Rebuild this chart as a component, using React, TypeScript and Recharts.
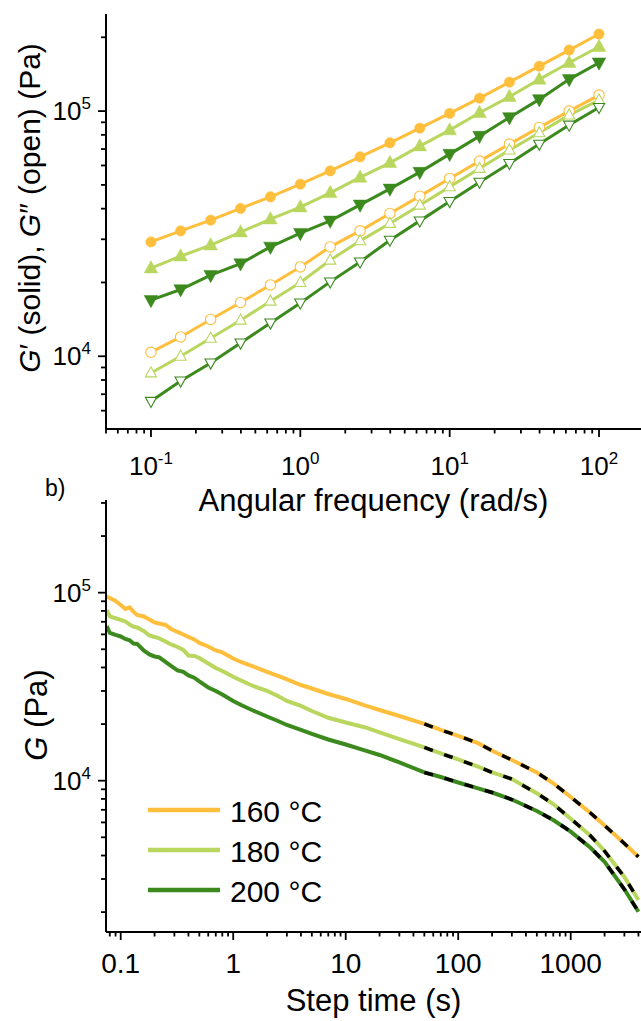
import { LineChart, Line, XAxis, YAxis, Label, Legend } from "recharts";

const FONT = "'Liberation Sans', Arial, Helvetica, sans-serif";
const ORANGE = "#FFBE3C";
const LIGHT = "#B9D65E";
const DARK = "#3C8A1E";

// a) frequency sweep
const freq = [0.1, 0.158, 0.251, 0.398, 0.631, 1, 1.585, 2.512, 3.981, 6.31, 10, 15.85, 25.12, 39.81, 63.1, 100];
const gp160 = [29270, 32470, 35910, 40080, 44700, 50350, 57050, 65090, 74240, 85220, 97860, 113000, 131300, 152600, 177400, 206200];
const gp180 = [22870, 25600, 28390, 32080, 36250, 40580, 46400, 53620, 61520, 71960, 83640, 98420, 114400, 134700, 157500, 183000];
const gp200 = [16930, 18720, 21410, 23890, 27930, 31770, 35660, 41460, 48180, 56370, 66760, 79070, 94250, 111600, 134700, 157500];
const gpp160 = [10380, 11990, 14120, 16570, 19540, 23140, 27930, 32470, 38220, 44990, 53130, 62520, 73340, 85800, 100000, 116200];
const gpp180 = [8548, 10000, 11840, 14030, 16770, 19990, 24650, 29550, 34800, 41330, 49090, 58360, 69310, 81540, 96310, 110900];
const gpp200 = [6552, 7930, 9390, 11330, 13670, 16500, 20110, 24260, 29750, 35660, 42800, 51310, 61160, 73340, 87690, 103500];

// b) stress relaxation
const stepTime = [0.075, 0.08, 0.09, 0.1, 0.11, 0.12, 0.13, 0.14, 0.16, 0.18, 0.2, 0.22, 0.25, 0.28, 0.32, 0.36, 0.4, 0.45, 0.5, 0.6, 0.7, 0.8,
  1, 1.2, 1.5, 2, 2.5, 3, 4, 5, 7, 10, 15, 20, 30, 50, 70, 100, 150, 200, 300, 500, 700, 1000, 1500, 2000, 3000, 4000];
const g160 = [95220, 93720, 90340, 86030, 81910, 83430, 78970, 76120, 74730, 72030, 69430, 68590, 67340, 64120, 61800, 59940, 58130, 56380, 54010, 51750, 49270, 48080,
  44670, 42540, 40500, 37860, 36050, 34620, 32280, 30930, 28920, 27200, 25060, 23770, 22090, 20030, 18610, 17330, 15830, 14440, 12890, 11060, 9690, 8191, 6734, 5777, 4634, 3943];
const g180 = [80880, 74730, 73100, 71590, 70280, 67750, 65950, 65310, 62570, 59210, 58130, 57070, 55010, 53030, 51430, 49570, 46340, 46060, 44950, 42020, 39770, 38320,
  35740, 33910, 31890, 30010, 28220, 26540, 24970, 23480, 21610, 20400, 19190, 18050, 16630, 15020, 13970, 12970, 11870, 11060, 10210, 8570, 7516, 6280, 5094, 4227, 3075, 2320];
const g200 = [66520, 61050, 59570, 58490, 56730, 55800, 53680, 53400, 49270, 46920, 45780, 45300, 42800, 40750, 38570, 37900, 36280, 35300, 33710, 31310, 30010, 28740,
  26540, 25120, 23630, 21950, 20770, 19780, 18610, 17720, 16560, 15580, 14440, 13700, 12500, 11060, 10460, 9782, 9110, 8655, 7943, 6900, 6180, 5361, 4396, 3704, 2645, 2010];
const fitTime = [50, 70, 100, 150, 200, 300, 500, 700, 1000, 1500, 2000, 3000, 4000];
const fit160 = [20030, 18610, 17330, 15830, 14440, 12890, 11060, 9690, 8191, 6734, 5777, 4634, 3943];
const fit180 = [15020, 13970, 12970, 11870, 11060, 10210, 8570, 7516, 6280, 5094, 4227, 3075, 2320];
const fit200 = [11060, 10460, 9782, 9110, 8655, 7943, 6900, 6180, 5361, 4396, 3704, 2645, 2010];

// tick positions (majors get labels)
const topXTicks = [0.05, 0.06, 0.07, 0.08, 0.09, 0.1, 0.2, 0.3, 0.4, 0.5, 0.6, 0.7, 0.8, 0.9, 1, 2, 3, 4, 5, 6, 7, 8, 9, 10, 20, 30, 40, 50, 60, 70, 80, 90, 100];
const topYTicks = [6000, 7000, 8000, 9000, 10000, 20000, 30000, 40000, 50000, 60000, 70000, 80000, 90000, 100000, 200000];
const botXTicks = [0.08, 0.09, 0.1, 0.2, 0.3, 0.4, 0.5, 0.6, 0.7, 0.8, 0.9, 1, 2, 3, 4, 5, 6, 7, 8, 9, 10, 20, 30, 40, 50, 60, 70, 80, 90,
  100, 200, 300, 400, 500, 600, 700, 800, 900, 1000, 2000, 3000, 4000];
const botYTicks = [2000, 3000, 4000, 5000, 6000, 7000, 8000, 9000, 10000, 20000, 30000, 40000, 50000, 60000, 70000, 80000, 90000, 100000, 200000, 300000];

const topRows = freq.map((f, i) => ({
  f, gp160: gp160[i], gp180: gp180[i], gp200: gp200[i], gpp160: gpp160[i], gpp180: gpp180[i], gpp200: gpp200[i],
}));

const botRows = stepTime.map((t, i) => {
  const k = fitTime.indexOf(t);
  return {
    t, g160: g160[i], g180: g180[i], g200: g200[i],
    fit160: k >= 0 ? fit160[k] : null,
    fit180: k >= 0 ? fit180[k] : null,
    fit200: k >= 0 ? fit200[k] : null,
  };
});

const isMajor = (v: number) => Math.abs(Math.log10(v) - Math.round(Math.log10(v))) < 1e-6;

function XTick(props: any) {
  const { x, y, payload, exp } = props;
  const v = payload.value;
  const major = isMajor(v);
  const e = Math.round(Math.log10(v));
  return (
    <g>
      <line x1={x} y1={y} x2={x} y2={y + (major ? 8 : 4.5)} stroke="#000" strokeWidth={1.8} />
      {major && exp && (
        <text x={x} y={y + 46} textAnchor="middle" fontSize={26} fontFamily={FONT} fill="#000">
          10<tspan dy={-11} fontSize={17}>{e}</tspan>
        </text>
      )}
      {major && !exp && (
        <text x={x} y={y + 41} textAnchor="middle" fontSize={28} fontFamily={FONT} fill="#000">
          {String(v)}
        </text>
      )}
    </g>
  );
}

function YTick(props: any) {
  const { x, y, payload } = props;
  const v = payload.value;
  const major = isMajor(v);
  const e = Math.round(Math.log10(v));
  return (
    <g>
      <line x1={x} y1={y} x2={x - (major ? 8 : 5)} y2={y} stroke="#000" strokeWidth={1.8} />
      {major && (
        <text x={x - 15} y={y + 9} textAnchor="end" fontSize={26} fontFamily={FONT} fill="#000">
          10<tspan dy={-11} fontSize={17}>{e}</tspan>
        </text>
      )}
    </g>
  );
}

const marker = (shape: string, color: string, open: boolean) => (p: any) => {
  const { cx, cy, index } = p;
  const key = `${shape}-${color}-${open ? "o" : "s"}-${index}`;
  if (cx == null || cy == null) return <g key={key} />;
  const fill = open ? "#fff" : color;
  const sw = open ? 1.1 : 0.5;
  if (shape === "circle") {
    return <circle key={key} cx={cx} cy={cy} r={5.2} fill={fill} stroke={color} strokeWidth={sw} />;
  }
  const h = open ? 5.6 : 6.8;
  const d =
    shape === "up"
      ? `M${cx},${cy - h * 1.1}L${cx + h},${cy + h * 0.7}L${cx - h},${cy + h * 0.7}Z`
      : `M${cx},${cy + h * 1.1}L${cx + h},${cy - h * 0.7}L${cx - h},${cy - h * 0.7}Z`;
  return <path key={key} d={d} fill={fill} stroke={color} strokeWidth={sw} />;
};

const renderLegend = (props: any) => {
  const items = (props.payload || []).filter((it: any) => it.type !== "none");
  return (
    <svg width={200} height={122}>
      {items.map((it: any, i: number) => (
        <g key={i}>
          <line x1={0} x2={72} y1={20 + 40 * i} y2={20 + 40 * i} stroke={it.color} strokeWidth={4.5} />
          <text x={82} y={31.5 + 40 * i} fontSize={30} fontFamily={FONT} fill="#000">
            {it.value}
          </text>
        </g>
      ))}
    </svg>
  );
};

export default function App() {
  return (
    <div style={{ position: "absolute", left: 0, top: 0, width: 641, height: 1021, background: "#fff" }}>
      <div style={{ position: "absolute", left: 0, top: 0 }}>
        <LineChart width={641} height={525} data={topRows} margin={{ top: 14, right: 0, bottom: 0, left: 0 }}>
          <XAxis
            dataKey="f"
            type="number"
            scale="log"
            domain={[0.05, 191]}
            allowDataOverflow
            ticks={topXTicks}
            interval={0}
            tickLine={false}
            tickSize={0}
            tickMargin={0}
            height={96}
            axisLine={{ stroke: "#000", strokeWidth: 2 }}
            tick={(p: any) => <XTick {...p} exp />}
          >
            <Label
              content={(lp: any) => {
                const vb = lp.viewBox;
                return (
                  <text x={vb.x + vb.width / 2} y={vb.y + 82} textAnchor="middle" fontSize={31} fontFamily={FONT} fill="#000">
                    Angular frequency (rad/s)
                  </text>
                );
              }}
            />
          </XAxis>
          <YAxis
            type="number"
            scale="log"
            domain={[5050, 248900]}
            allowDataOverflow
            ticks={topYTicks}
            interval={0}
            tickLine={false}
            tickSize={0}
            tickMargin={0}
            width={106}
            axisLine={{ stroke: "#000", strokeWidth: 2 }}
            tick={(p: any) => <YTick {...p} />}
          >
            <Label
              content={() => (
                <text
                  x={40}
                  y={208}
                  transform="rotate(-90, 40, 208)"
                  textAnchor="middle"
                  fontSize={30}
                  fontFamily={FONT}
                  fill="#000"
                >
                  <tspan fontStyle="italic">G</tspan>′ (solid), <tspan fontStyle="italic">G</tspan>″ (open) (Pa)
                </text>
              )}
            />
          </YAxis>
          <Line dataKey="gp160" stroke={ORANGE} strokeWidth={3} dot={marker("circle", ORANGE, false)} activeDot={false} isAnimationActive={false} />
          <Line dataKey="gp180" stroke={LIGHT} strokeWidth={3} dot={marker("up", LIGHT, false)} activeDot={false} isAnimationActive={false} />
          <Line dataKey="gp200" stroke={DARK} strokeWidth={3} dot={marker("down", DARK, false)} activeDot={false} isAnimationActive={false} />
          <Line dataKey="gpp160" stroke={ORANGE} strokeWidth={3} dot={marker("circle", ORANGE, true)} activeDot={false} isAnimationActive={false} />
          <Line dataKey="gpp180" stroke={LIGHT} strokeWidth={3} dot={marker("up", LIGHT, true)} activeDot={false} isAnimationActive={false} />
          <Line dataKey="gpp200" stroke={DARK} strokeWidth={3} dot={marker("down", DARK, true)} activeDot={false} isAnimationActive={false} />
        </LineChart>
      </div>
      <div style={{ position: "absolute", left: 0, top: 470 }}>
        <LineChart width={641} height={551} data={botRows} margin={{ top: 30, right: 0, bottom: 0, left: 0 }}>
          <XAxis
            dataKey="t"
            type="number"
            scale="log"
            domain={[0.074, 4216]}
            allowDataOverflow
            ticks={botXTicks}
            interval={0}
            tickLine={false}
            tickSize={0}
            tickMargin={0}
            height={89}
            axisLine={{ stroke: "#000", strokeWidth: 2 }}
            tick={(p: any) => <XTick {...p} exp={false} />}
          >
            <Label
              content={(lp: any) => {
                const vb = lp.viewBox;
                return (
                  <text x={vb.x + vb.width / 2} y={vb.y + 79} textAnchor="middle" fontSize={31} fontFamily={FONT} fill="#000">
                    Step time (s)
                  </text>
                );
              }}
            />
          </XAxis>
          <YAxis
            type="number"
            scale="log"
            domain={[1568, 311000]}
            allowDataOverflow
            ticks={botYTicks}
            interval={0}
            tickLine={false}
            tickSize={0}
            tickMargin={0}
            width={106}
            axisLine={{ stroke: "#000", strokeWidth: 2 }}
            tick={(p: any) => <YTick {...p} />}
          >
            <Label
              content={() => (
                <text x={47} y={245} transform="rotate(-90, 47, 245)" textAnchor="middle" fontSize={31} fontFamily={FONT} fill="#000">
                  <tspan fontStyle="italic">G</tspan> (Pa)
                </text>
              )}
            />
            <Label
              content={() => (
                <text x={45} y={26} fontSize={23} fontFamily={FONT} fill="#000">
                  b)
                </text>
              )}
            />
          </YAxis>
          <Legend
            layout="vertical"
            align="center"
            verticalAlign="middle"
            wrapperStyle={{ left: 148, top: 320, width: 200, height: 122 }}
            content={renderLegend}
          />
          <Line name="160 °C" dataKey="g160" stroke={ORANGE} strokeWidth={4} dot={false} activeDot={false} isAnimationActive={false} />
          <Line name="180 °C" dataKey="g180" stroke={LIGHT} strokeWidth={4} dot={false} activeDot={false} isAnimationActive={false} />
          <Line name="200 °C" dataKey="g200" stroke={DARK} strokeWidth={4} dot={false} activeDot={false} isAnimationActive={false} />
          <Line dataKey="fit160" stroke="#000" strokeWidth={3.5} strokeDasharray="9 12" dot={false} activeDot={false} legendType="none" isAnimationActive={false} />
          <Line dataKey="fit180" stroke="#000" strokeWidth={3.5} strokeDasharray="9 12" dot={false} activeDot={false} legendType="none" isAnimationActive={false} />
          <Line dataKey="fit200" stroke="#000" strokeWidth={3.5} strokeDasharray="9 12" dot={false} activeDot={false} legendType="none" isAnimationActive={false} />
        </LineChart>
      </div>
    </div>
  );
}
